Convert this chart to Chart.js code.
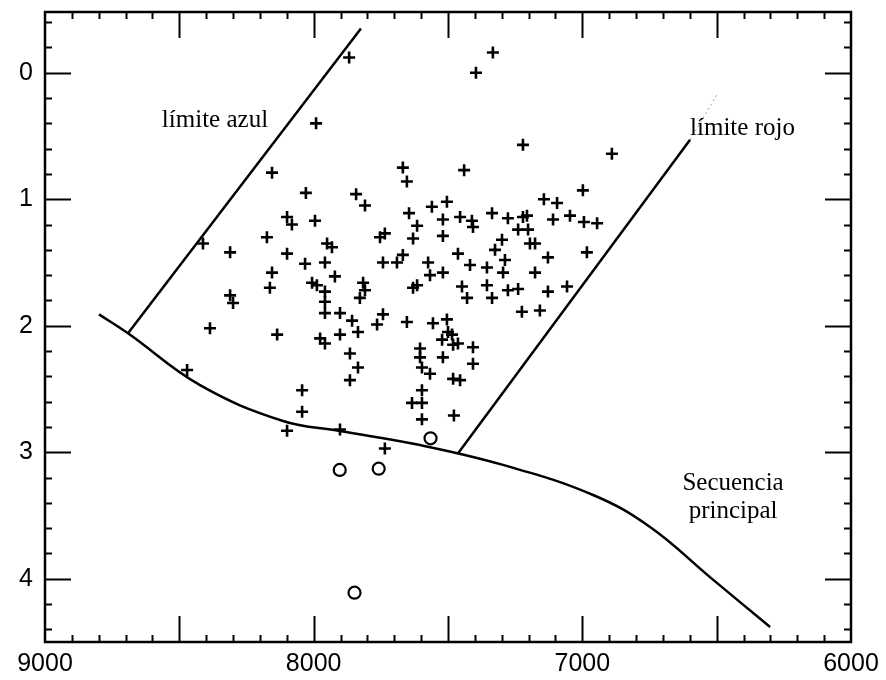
<!DOCTYPE html>
<html>
<head>
<meta charset="utf-8">
<script src="https://cdn.jsdelivr.net/npm/chart.js@4.4.0/dist/chart.umd.min.js"></script>
<style>
  html, body { margin: 0; padding: 0; background: #fff; }
  #wrap { width: 886px; height: 680px; }
</style>
</head>
<body>
<div id="wrap"><canvas id="hrChart" width="886" height="680"></canvas></div>
<script>
// axis labels
const xTickLabels = [9000, 8000, 7000, 6000];
const yTickLabels = [0, 1, 2, 3, 4];

// stars (+): temperature / magnitude
const starTemp = [
  8412, 8311, 8311, 8300, 8386, 8471, 8099, 8043, 8043,
  7868, 7333, 7396, 7991, 7221, 6890, 7440,
  8155, 7668, 7653, 8029, 7842, 7809, 7645, 7560, 7504, 8099, 8081, 7995, 7615, 7519,
  7630, 7519, 8174, 7950, 7932, 7753, 7735, 8099, 8032, 7958, 7742, 7690, 7668, 7574,
  8155, 7921, 8006, 7988, 7816, 7615, 7567, 7519, 8163,
  7336, 7455, 7411, 7407, 7277, 7221, 7206, 7239, 7202, 7109, 7046, 6994, 6945, 7143,
  7094, 6998, 7299, 7325, 7195, 7176, 7463, 7418, 7355, 7288, 7295, 7128, 6983, 7176,
  7448, 7355, 7277, 7239, 7128, 7057,
  7958, 7809, 7828, 7630, 7958, 7958, 7902, 7857, 7742, 7764, 7653, 7556, 7504,
  8136, 7976, 7958, 7902, 7835, 7522, 7604, 7604, 7519, 7865, 7835, 7597, 7567, 7865,
  7597, 7634, 7597, 7597, 7902, 7735,
  7429, 7336, 7225, 7158, 7500, 7485, 7463, 7481, 7407, 7407, 7481, 7455, 7478
];
const starMag = [
  1.35, 1.42, 1.76, 1.82, 2.02, 2.35, 2.83, 2.51, 2.68,
  -0.12, -0.16, 0.00, 0.40, 0.57, 0.64, 0.77,
  0.79, 0.75, 0.86, 0.95, 0.96, 1.05, 1.11, 1.06, 1.02, 1.14, 1.20, 1.17, 1.21, 1.16,
  1.31, 1.29, 1.30, 1.35, 1.38, 1.30, 1.27, 1.43, 1.51, 1.50, 1.50, 1.50, 1.44, 1.50,
  1.58, 1.61, 1.66, 1.68, 1.66, 1.68, 1.60, 1.58, 1.70,
  1.11, 1.14, 1.17, 1.22, 1.15, 1.14, 1.13, 1.24, 1.24, 1.16, 1.13, 1.18, 1.19, 1.00,
  1.03, 0.93, 1.32, 1.40, 1.35, 1.35, 1.43, 1.52, 1.54, 1.48, 1.58, 1.46, 1.42, 1.58,
  1.69, 1.68, 1.72, 1.71, 1.73, 1.69,
  1.73, 1.72, 1.78, 1.70, 1.81, 1.90, 1.90, 1.96, 1.91, 1.99, 1.97, 1.98, 1.95,
  2.07, 2.10, 2.14, 2.07, 2.05, 2.11, 2.18, 2.25, 2.25, 2.22, 2.33, 2.33, 2.38, 2.43,
  2.51, 2.61, 2.61, 2.74, 2.82, 2.97,
  1.78, 1.78, 1.89, 1.88, 2.05, 2.07, 2.14, 2.15, 2.17, 2.30, 2.42, 2.43, 2.71
];

// stars (o)
const circleTemp = [7903, 7758, 7848, 7565];
const circleMag = [3.14, 3.13, 4.11, 2.89];

// main sequence
const msTemp = [8799, 8691, 8423, 8114, 7902, 7604, 7295, 6960, 6748, 6525, 6301];
const msMag = [1.91, 2.06, 2.47, 2.753, 2.832, 2.943, 3.10, 3.338, 3.591, 3.987, 4.382];

// edges of the strip
const blueTemp = [8691, 7824];
const blueMag = [2.06, -0.35];
const redTemp = [7463, 6599];
const redMag = [3.01, 0.53];
const redFaintTemp = [6599, 6495];
const redFaintMag = [0.53, 0.16];

const notes = [
  { text: 'límite azul', x: 8565, y: 0.43, align: 'left' },
  { text: 'límite rojo', x: 6599, y: 0.49, align: 'left' },
  { text: 'Secuencia', x: 6439, y: 3.30, align: 'center' },
  { text: 'principal', x: 6439, y: 3.52, align: 'center' }
];

const toXY = (xs, ys) => xs.map((x, i) => ({ x: x, y: ys[i] }));

// box with inward ticks on all four sides
const frameTicks = {
  id: 'frameTicks',
  afterDraw(chart) {
    const { ctx, chartArea: a, scales: { x, y } } = chart;
    ctx.save();
    ctx.strokeStyle = '#000';
    ctx.lineWidth = 2.5;
    ctx.strokeRect(a.left, a.top, a.right - a.left, a.bottom - a.top);
    ctx.lineWidth = 2;
    ctx.beginPath();
    for (let v = 6100; v < 9000; v += 100) {
      const len = v % 500 === 0 ? 26 : 7;
      const px = Math.round(x.getPixelForValue(v)) + 0.5;
      ctx.moveTo(px, a.bottom); ctx.lineTo(px, a.bottom - len);
      ctx.moveTo(px, a.top); ctx.lineTo(px, a.top + len);
    }
    for (let k = -2; k <= 22; k++) {
      const len = k % 5 === 0 ? 26 : 7;
      const py = Math.round(y.getPixelForValue(k / 5)) + 0.5;
      if (py <= a.top || py >= a.bottom) continue;
      ctx.moveTo(a.left, py); ctx.lineTo(a.left + len, py);
      ctx.moveTo(a.right, py); ctx.lineTo(a.right - len, py);
    }
    ctx.stroke();

    ctx.fillStyle = '#000';
    ctx.font = '25px "Liberation Serif", "Times New Roman", serif';
    ctx.textBaseline = 'alphabetic';
    notes.forEach(n => {
      ctx.textAlign = n.align;
      ctx.fillText(n.text, x.getPixelForValue(n.x), y.getPixelForValue(n.y));
    });
    ctx.restore();
  }
};

const tickFont = { family: '"Liberation Sans", Arial, sans-serif', size: 25 };

new Chart(document.getElementById('hrChart'), {
  type: 'scatter',
  data: {
    datasets: [
      {
        data: toXY(msTemp, msMag), showLine: true, borderColor: '#000', borderWidth: 2.5,
        pointRadius: 0, tension: 0.4
      },
      { data: toXY(blueTemp, blueMag), showLine: true, borderColor: '#000', borderWidth: 2.5, pointRadius: 0 },
      { data: toXY(redTemp, redMag), showLine: true, borderColor: '#000', borderWidth: 2.5, pointRadius: 0 },
      {
        data: toXY(redFaintTemp, redFaintMag), showLine: true, borderColor: '#9a9a9a', borderWidth: 1,
        borderDash: [2, 3], pointRadius: 0
      },
      {
        data: toXY(starTemp, starMag), pointStyle: 'cross', pointRadius: 6,
        borderColor: '#000', borderWidth: 2.6
      },
      {
        data: toXY(circleTemp, circleMag), pointStyle: 'circle', pointRadius: 6,
        borderColor: '#000', backgroundColor: 'rgba(0,0,0,0)', borderWidth: 2.2
      }
    ]
  },
  options: {
    responsive: false,
    animation: false,
    events: [],
    layout: { padding: { top: 12, right: 35, left: 0, bottom: 0 } },
    plugins: { legend: { display: false }, tooltip: { enabled: false } },
    scales: {
      x: {
        type: 'linear', reverse: true, min: 6000, max: 9000,
        grid: { display: false, drawTicks: false }, border: { display: false },
        ticks: {
          font: tickFont, color: '#000', padding: 7, maxRotation: 0, autoSkip: false,
          callback: v => String(v)
        },
        afterBuildTicks: s => { s.ticks = xTickLabels.map(v => ({ value: v })); },
        afterFit: s => { s.height = 38; s.paddingLeft = 0; s.paddingRight = 0; }
      },
      y: {
        type: 'linear', reverse: true, min: -0.48, max: 4.5,
        grid: { display: false, drawTicks: false }, border: { display: false },
        ticks: { font: tickFont, color: '#000', padding: 12, autoSkip: false, callback: v => String(v) },
        afterBuildTicks: s => { s.ticks = yTickLabels.map(v => ({ value: v })); },
        afterFit: s => { s.width = 45; s.paddingTop = 0; s.paddingBottom = 0; }
      }
    }
  },
  plugins: [frameTicks]
});
</script>
</body>
</html>
